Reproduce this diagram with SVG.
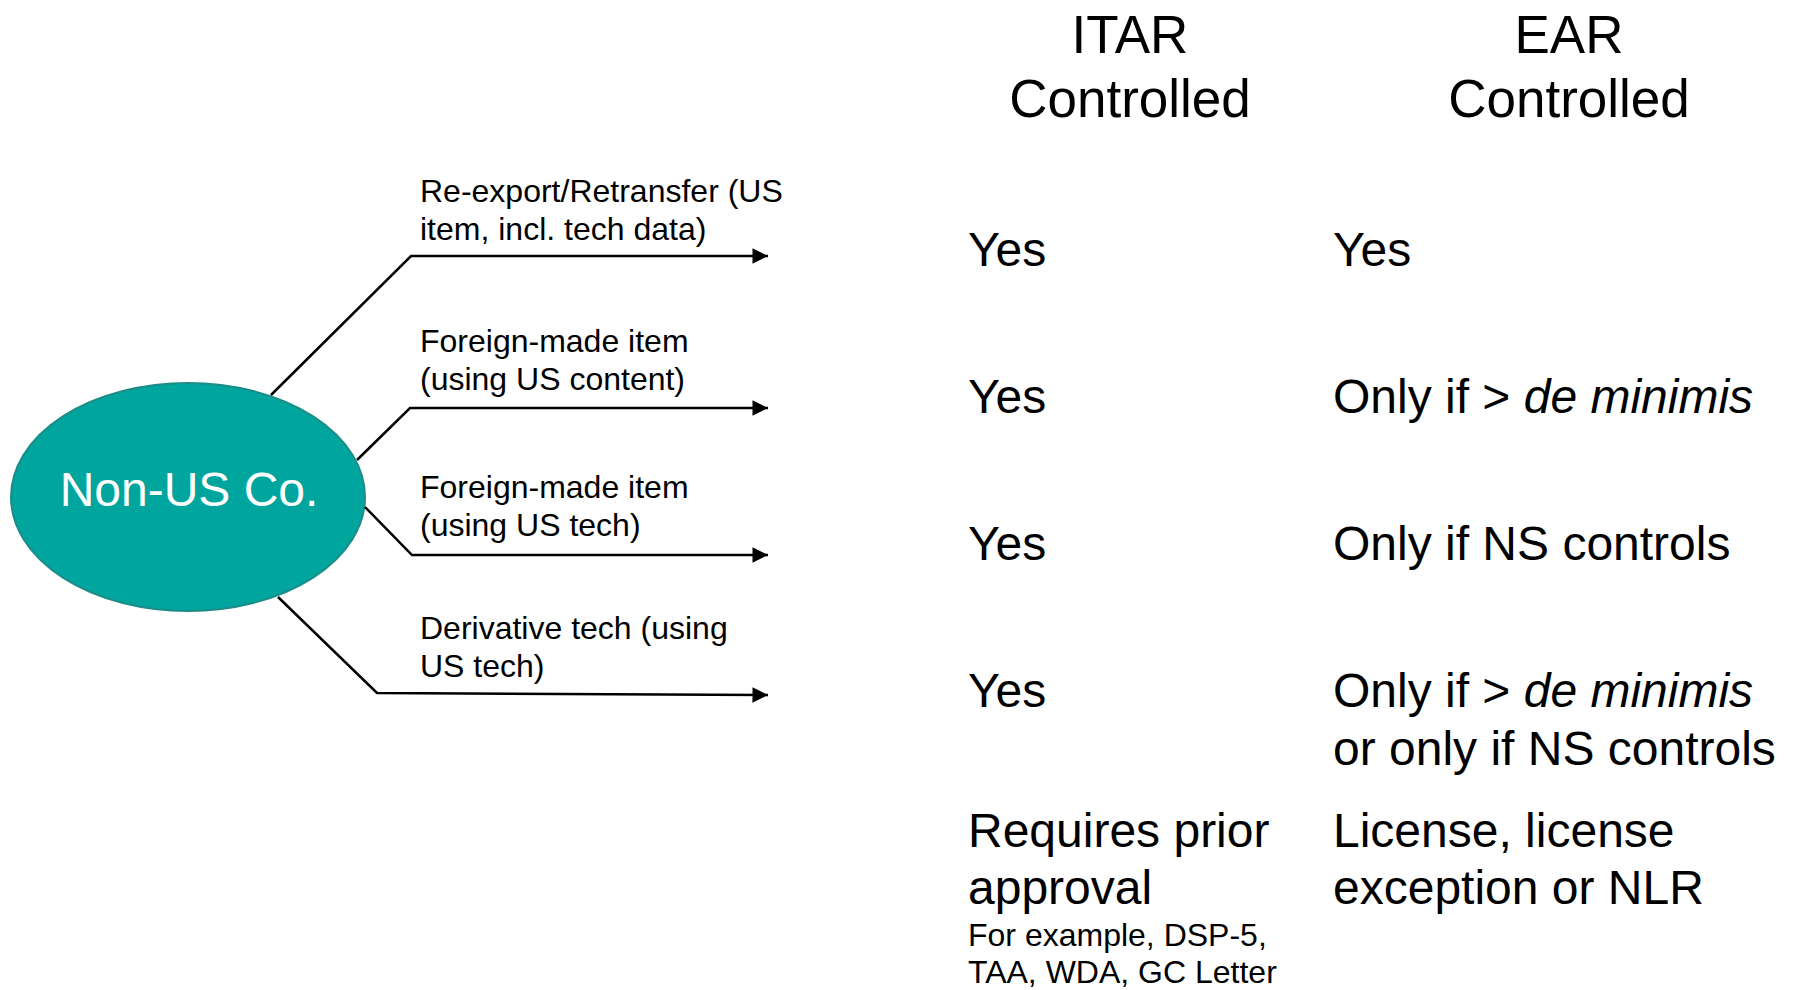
<svg xmlns="http://www.w3.org/2000/svg" width="1796" height="990" viewBox="0 0 1796 990">
  <style>
    text { font-family: "Liberation Sans", Arial, sans-serif; fill: #000; }
    .head { font-size: 53px; text-anchor: middle; }
    .cell { font-size: 48px; }
    .note { font-size: 32px; }
    .lbl { font-size: 32px; }
    .node-label { font-size: 48px; fill: #fff; text-anchor: middle; }
    .conn { fill: none; stroke: #000; stroke-width: 2.5; }
  </style>
  <defs>
    <marker id="arrow" viewBox="0 0 10 10" refX="10" refY="5" markerWidth="6.6" markerHeight="6.2" markerUnits="strokeWidth" orient="auto">
      <path d="M0,0 L10,5 L0,10 z" fill="#000"/>
    </marker>
  </defs>
  <rect width="1796" height="990" fill="#fff"/>

  <!-- source company -->
  <g id="node-nonus">
    <ellipse cx="188" cy="497" rx="177" ry="114" fill="#00A59D" stroke="#1B8C87" stroke-width="2"/>
    <text class="node-label" x="189" y="506">Non-US Co.</text>
  </g>

  <!-- branches with arrows -->
  <g id="connectors">
    <polyline class="conn" points="271,395 411,256 768,256" marker-end="url(#arrow)"/>
    <polyline class="conn" points="357,460 410,408 768,408" marker-end="url(#arrow)"/>
    <polyline class="conn" points="365,507 412,555 768,555" marker-end="url(#arrow)"/>
    <polyline class="conn" points="278,597 377,693 768,695" marker-end="url(#arrow)"/>
  </g>

  <!-- branch labels -->
  <g id="label-reexport">
    <text class="lbl" x="420" y="202">Re-export/Retransfer (US</text>
    <text class="lbl" x="420" y="240">item, incl. tech data)</text>
  </g>
  <g id="label-foreign-content">
    <text class="lbl" x="420" y="352">Foreign-made item</text>
    <text class="lbl" x="420" y="390">(using US content)</text>
  </g>
  <g id="label-foreign-tech">
    <text class="lbl" x="420" y="498">Foreign-made item</text>
    <text class="lbl" x="420" y="536">(using US tech)</text>
  </g>
  <g id="label-derivative">
    <text class="lbl" x="420" y="639">Derivative tech (using</text>
    <text class="lbl" x="420" y="677">US tech)</text>
  </g>

  <!-- column headers -->
  <g id="head-itar">
    <text class="head" x="1130" y="53">ITAR</text>
    <text class="head" x="1130" y="117">Controlled</text>
  </g>
  <g id="head-ear">
    <text class="head" x="1569" y="53">EAR</text>
    <text class="head" x="1569" y="117">Controlled</text>
  </g>

  <!-- ITAR column -->
  <g id="itar-col">
    <text class="cell" x="968" y="266">Yes</text>
    <text class="cell" x="968" y="413">Yes</text>
    <text class="cell" x="968" y="560">Yes</text>
    <text class="cell" x="968" y="707">Yes</text>
    <text class="cell" x="968" y="847">Requires prior</text>
    <text class="cell" x="968" y="904">approval</text>
    <text class="note" x="968" y="946">For example, DSP-5,</text>
    <text class="note" x="968" y="983">TAA, WDA, GC Letter</text>
  </g>

  <!-- EAR column -->
  <g id="ear-col">
    <text class="cell" x="1333" y="266">Yes</text>
    <text class="cell" x="1333" y="413">Only if &gt; <tspan font-style="italic">de minimis</tspan></text>
    <text class="cell" x="1333" y="560">Only if NS controls</text>
    <text class="cell" x="1333" y="707">Only if &gt; <tspan font-style="italic">de minimis</tspan></text>
    <text class="cell" x="1333" y="765">or only if NS controls</text>
    <text class="cell" x="1333" y="847">License, license</text>
    <text class="cell" x="1333" y="904">exception or NLR</text>
  </g>
</svg>
